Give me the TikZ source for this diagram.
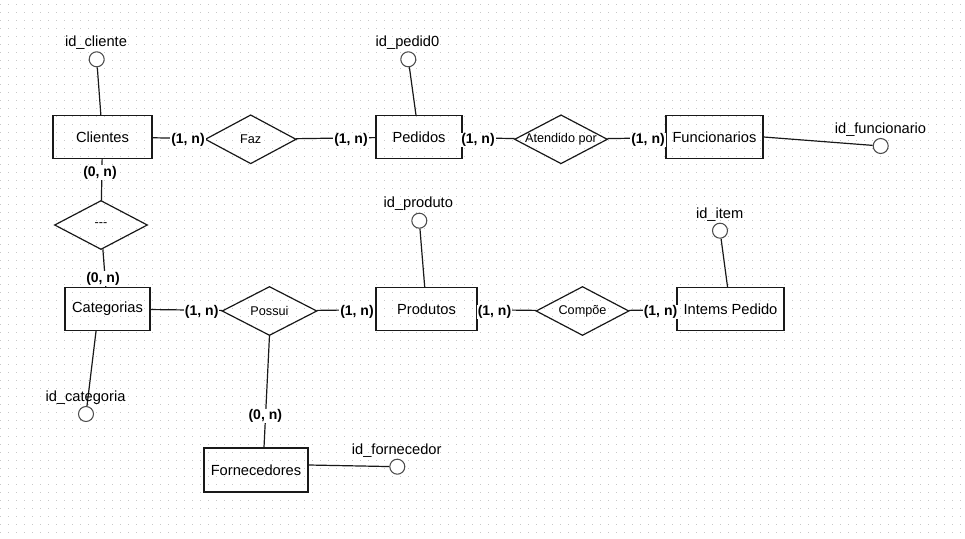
\documentclass[tikz,border=0pt]{standalone}
\usepackage{fontspec}
\setmainfont{Liberation Sans}
\begin{document}
\begin{tikzpicture}[x=0.75pt,y=-0.75pt,
  edge/.style={draw=black!90, line width=0.9pt},
  entity/.style={draw=black!90, line width=0.9pt, rectangle, minimum height=32.25pt,
    inner sep=0pt, font=\fontsize{11}{13}\selectfont},
  relation/.style={rectangle, minimum width=69pt, minimum height=36pt, inner sep=0pt,
    font=\fontsize{9.5}{11}\selectfont},
  attrib/.style={draw=black!70, line width=0.8pt, circle, minimum size=11.25pt,
    inner sep=0pt, fill=white},
  attrname/.style={inner sep=0pt, font=\fontsize{11}{13}\selectfont},
  card/.style={fill=white, inner sep=0.6pt, font=\bfseries\fontsize{10.5}{12}\selectfont},
  griddot/.style={draw=black!22, line width=0.75pt, dash pattern=on 0.75pt off 5.25pt}]

% canvas and dotted grid
\useasboundingbox (0,0) rectangle (965,539);
\fill[white] (0,0) rectangle (965,539);
\foreach \gy in {4,12,...,536}
  \draw[griddot] (0,\gy) -- (965,\gy);

% entities
\node[entity, minimum width=74.25pt] (clientes) at (102.5,137) {Clientes};
\node[entity, minimum width=64.5pt] (pedidos) at (419,137) {Pedidos};
\node[entity, minimum width=72.75pt] (funcionarios) at (714.5,137) {Funcionarios};
\node[entity, minimum width=63.75pt] (categorias) at (107.5,309) {Categorias};
\node[entity, minimum width=75.75pt] (produtos) at (426.5,309) {Produtos};
\node[entity, minimum width=80.25pt] (itens) at (730.5,309) {Intems Pedido};
\node[entity, minimum width=78pt, minimum height=33pt] (fornecedores) at (256,470) {Fornecedores};

% relationships (outline drawn below as diamonds)
\node[relation, minimum width=67.5pt] (faz) at (250.7,139.3) {Faz};
\node[relation] (atend) at (561,139.3) {Atendido por};
\node[relation] (rdash) at (101,225) {-{}-{}-};
\node[relation, minimum width=70.5pt] (possui) at (269.5,311) {Possui};
\node[relation] (compoe) at (582.5,311) {Compõe};

% key attributes
\node[attrib] (ac) at (96.7,59.3) {};
\node[attrib] (ap) at (408.3,59.3) {};
\node[attrib] (af) at (880.7,146) {};
\node[attrib] (apr) at (419.3,220.7) {};
\node[attrib] (ai) at (720,230.7) {};
\node[attrib] (acat) at (86,414) {};
\node[attrib] (afor) at (397.3,466.7) {};

% relationship links
\draw[edge] (clientes) -- (faz);
\draw[edge] (faz) -- (pedidos);
\draw[edge] (pedidos) -- (atend);
\draw[edge] (atend) -- (funcionarios);
\draw[edge] (clientes) -- (rdash);
\draw[edge] (rdash) -- (categorias);
\draw[edge] (categorias) -- (possui);
\draw[edge] (possui) -- (produtos);
\draw[edge] (produtos) -- (compoe);
\draw[edge] (compoe) -- (itens);
\draw[edge] (possui.south) -- ([xshift=6pt]fornecedores.north);

% attribute links
\draw[edge] (ac) -- (clientes);
\draw[edge] (ap) -- (pedidos);
\draw[edge] (funcionarios.east) -- (af);
\draw[edge] (apr) -- (produtos);
\draw[edge] (ai) -- (itens);
\draw[edge] ([xshift=-8.6pt]categorias.south) -- (acat);
\draw[edge] ([yshift=3.75pt]fornecedores.east) -- (afor);

% diamond outlines
\foreach \r in {faz,atend,rdash,possui,compoe}
  \draw[edge, line join=miter] (\r.west) -- (\r.north) -- (\r.east) -- (\r.south) -- cycle;

% attribute names
\node[attrname] (tc) at (96,43) {id\_cliente};
\node[attrname] (tp) at (407.5,43) {id\_pedid0};
\node[attrname] (tf) at (880.5,129.3) {id\_funcionario};
\node[attrname] (tpr) at (418.3,204) {id\_produto};
\node[attrname] (ti) at (719.7,215) {id\_item};
\node[attrname] (tcat) at (85.5,397.7) {id\_categoria};
\node[attrname] (tfor) at (396.7,451) {id\_fornecedor};

% cardinalities
\node[card] (k1) at (188,140) {(1, n)};
\node[card] (k2) at (351,140) {(1, n)};
\node[card] (k3) at (478,140) {(1, n)};
\node[card] (k4) at (648,140) {(1, n)};
\node[card] (k5) at (100,172.7) {(0, n)};
\node[card] (k6) at (103,278.7) {(0, n)};
\node[card] (k7) at (201.7,312) {(1, n)};
\node[card] (k8) at (357,312) {(1, n)};
\node[card] (k9) at (494.5,312) {(1, n)};
\node[card] (k10) at (660.5,312) {(1, n)};
\node[card] (k11) at (265.3,416) {(0, n)};
\end{tikzpicture}
\end{document}
